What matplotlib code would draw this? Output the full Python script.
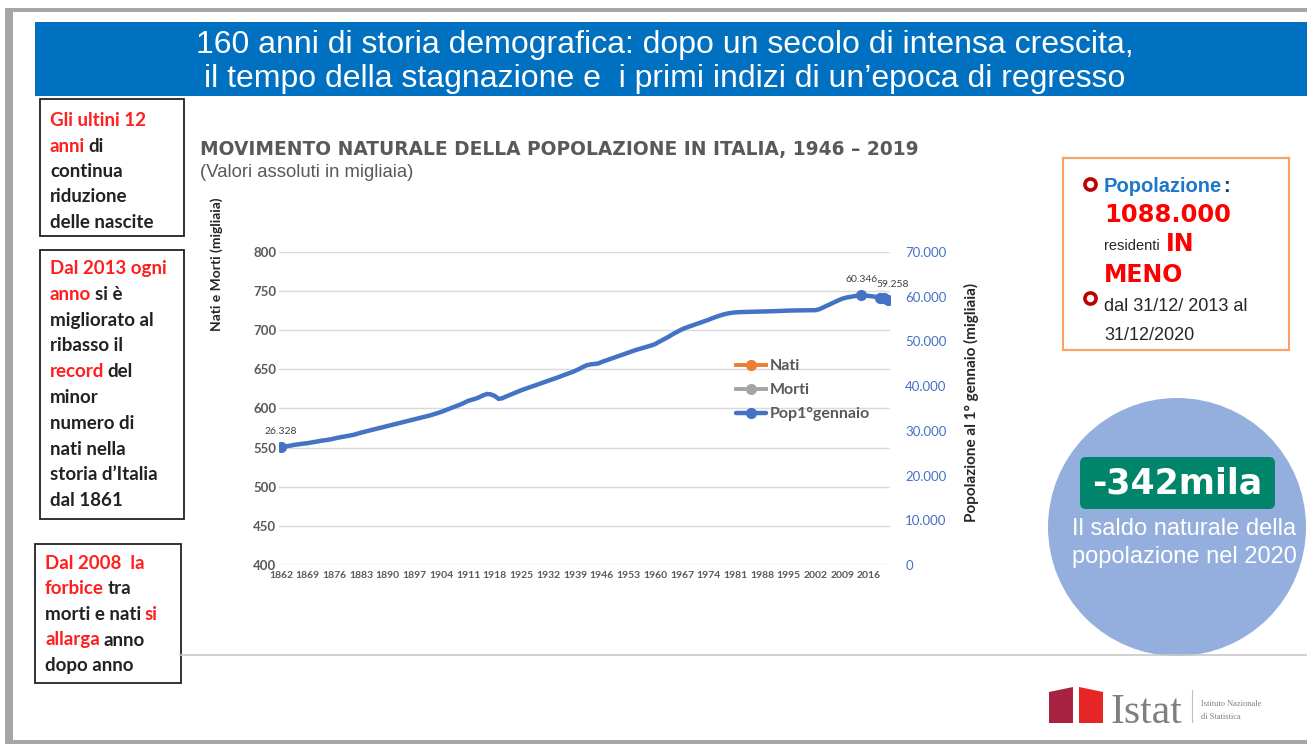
import matplotlib
matplotlib.use("Agg")
import matplotlib.pyplot as plt
from matplotlib.patches import Rectangle, Circle, FancyBboxPatch, Polygon
from matplotlib.ticker import FuncFormatter

# popolazione al 1 gennaio (migliaia)
years = list(range(1862, 2022))
pop = [
    26328, 26480, 26630, 26780, 26930, 27050, 27150, 27250,
    27400, 27550, 27700, 27850, 27950, 28100, 28300, 28480, 28640, 28800,
    28950, 29100, 29350, 29600, 29820, 30040, 30250, 30450, 30670, 30890,
    31100, 31320, 31530, 31740, 31950, 32170, 32380, 32600, 32800, 33010,
    33220, 33440, 33700, 33970, 34250, 34580, 34900, 35230, 35560, 35900,
    36280, 36700, 36950, 37200, 37550, 37950, 38250, 38150, 37800, 37150,
    37300, 37700, 38050, 38400, 38750, 39100, 39400, 39700, 40000, 40300,
    40600, 40900, 41200, 41500, 41800, 42100, 42450, 42750, 43050, 43400,
    43800, 44250, 44650, 44850, 44950, 45050, 45400, 45700, 46000, 46300,
    46600, 46900, 47200, 47500, 47800, 48100, 48350, 48600, 48850, 49100,
    49400, 49900, 50350, 50800, 51300, 51800, 52250, 52700, 53050, 53350,
    53650, 53950, 54250, 54550, 54850, 55200, 55500, 55800, 56050, 56250,
    56400, 56500, 56550, 56580, 56600, 56610, 56630, 56650, 56680, 56700,
    56730, 56760, 56800, 56840, 56880, 56900, 56920, 56930, 56950, 56960,
    56970, 56980, 56990, 57200, 57600, 58000, 58400, 58800, 59200, 59550,
    59800, 59950, 60100, 60250, 60346, 60295, 60163, 60066, 59938, 59817,
    59641, 59258,
]
# nati e morti: solo in legenda, nessun punto visibile nel grafico
nati_years, nati = [], []
morti_years, morti = [], []
marker_years = [1862, 2014, 2019, 2020, 2021]
label_years = [1862, 2014, 2021]
xtick_years = list(range(1862, 2017, 7))
left_ticks = list(range(400, 801, 50))
right_ticks = list(range(0, 70001, 10000))

title_lines = ["160 anni di storia demografica: dopo un secolo di intensa crescita,",
               "il tempo della stagnazione e  i primi indizi di un\u2019epoca di regresso"]

RED = "#FF1F1F"
DARK = "#222222"
box1 = [[("Gli ultini 12", RED)],
        [("anni", RED), (" di", DARK)],
        [("continua", DARK)],
        [("riduzione", DARK)],
        [("delle nascite", DARK)]]
box2 = [[("Dal 2013 ogni", RED)],
        [("anno", RED), (" si è", DARK)],
        [("migliorato al", DARK)],
        [("ribasso il", DARK)],
        [("record", RED), (" del", DARK)],
        [("minor", DARK)],
        [("numero di", DARK)],
        [("nati nella", DARK)],
        [("storia d\u2019Italia", DARK)],
        [("dal 1861", DARK)]]
box3 = [[("Dal 2008  la", RED)],
        [("forbice", RED), (" tra", DARK)],
        [("morti e nati ", DARK), ("si", RED)],
        [("allarga", RED), (" anno", DARK)],
        [("dopo anno", DARK)]]

W, H = 1307, 744
fig = plt.figure(figsize=(W / 100, H / 100), dpi=100)
bg = fig.add_axes([0, 0, 1, 1])
bg.set_xlim(0, W)
bg.set_ylim(H, 0)
bg.axis("off")
rend = fig.canvas.get_renderer()

# cornice e banner
gray = "#A6A6A6"
bg.add_patch(Rectangle((5, 8), 8, H - 8, color=gray, lw=0))
bg.add_patch(Rectangle((5, 8), W, 4, color=gray, lw=0))
bg.add_patch(Rectangle((5, 740), W, 4, color=gray, lw=0))
bg.add_patch(Rectangle((35, 22), W - 35, 74, color="#0070C0", lw=0))
bg.text(665, 45, title_lines[0], color="white", fontsize=23, family="Liberation Sans",
        ha="center", va="center")
bg.text(665, 79, title_lines[1], color="white", fontsize=23, family="Liberation Sans",
        ha="center", va="center")
bg.plot([180, W], [655, 655], color="#C8C8C8", lw=1.2)


def tw(s, **kw):
    t = bg.text(0, 0, s, **kw)
    w = t.get_window_extent(rend).width
    t.remove()
    return w


def rich(x, y, parts, **kw):
    done = ""
    bar = tw("|", **kw)
    for txt, col in parts:
        lead = len(txt) - len(txt.lstrip(" "))
        off = tw(done + " " * lead + "|", **kw) - bar - 1 if (done or lead) else 0
        bg.text(x + off, y, txt.lstrip(" "), color=col, ha="left", va="baseline", **kw)
        done += txt


box_font = dict(fontsize=13.5, family="Lato", fontweight="bold")
for rect, lines, x0, y0, step in [((40, 99, 144, 137), box1, 50, 126, 25.5),
                                  ((40, 250, 144, 269), box2, 50, 274, 25.8),
                                  ((35, 544, 146, 139), box3, 45, 569, 25.5)]:
    bg.add_patch(Rectangle(rect[:2], rect[2], rect[3], fill=False, ec="#222222", lw=1.3))
    for k, parts in enumerate(lines):
        rich(x0, y0 + k * step, parts, **box_font)

# titolo del grafico
bg.text(200, 155, "MOVIMENTO NATURALE DELLA POPOLAZIONE IN ITALIA, 1946 \u2013 2019",
        fontsize=13.4, fontweight="bold", color="#595959", family="DejaVu Sans", va="baseline")
bg.text(200, 177, "(Valori assoluti in migliaia)", fontsize=13.3, color="#595959",
        family="Liberation Sans", va="baseline")
bg.text(217, 264, "Nati e Morti (migliaia)", rotation=90, fontsize=10, fontweight="bold",
        color="#262626", family="Lato", ha="center", va="center")
bg.text(971, 402, "Popolazione al 1° gennaio (migliaia)", rotation=90, fontsize=11,
        fontweight="bold", color="#262626", family="Lato", ha="center", va="center")

# grafico
L, R, T, B = 279, 890, 252, 565
ax = fig.add_axes([L / W, (H - B) / H, (R - L) / W, (B - T) / H])
ax.set_xlim(1861.5, 2021.5)
ax.set_ylim(400, 800)
ax.set_yticks(left_ticks)
ax.set_xticks(xtick_years)
ax.grid(axis="y", color="#D9D9D9", lw=1)
ax.set_axisbelow(True)
for s in ax.spines.values():
    s.set_visible(False)
ax.tick_params(axis="y", length=0, pad=2, labelsize=9.5, labelcolor="#595959")
ax.tick_params(axis="x", length=0, pad=4, labelsize=7.5, labelcolor="#595959")
for lab in ax.get_yticklabels() + ax.get_xticklabels():
    lab.set_family("Lato")
    lab.set_fontweight("bold")
l1, = ax.plot(nati_years, nati, color="#ED7D31", lw=2.8, marker="o", ms=7, label="Nati")
l2, = ax.plot(morti_years, morti, color="#A5A5A5", lw=2.8, marker="o", ms=7, label="Morti")

ax2 = ax.twinx()
ax2.set_ylim(0, 70000)
ax2.set_yticks(right_ticks)
ax2.yaxis.set_major_formatter(FuncFormatter(lambda v, p: f"{int(v):,}".replace(",", ".")))
for s in ax2.spines.values():
    s.set_visible(False)
ax2.tick_params(axis="y", length=0, pad=11, labelsize=9.5, labelcolor="#4472C4")
for lab in ax2.get_yticklabels():
    lab.set_family("Lato")
mk = [years.index(y) for y in marker_years]
l3, = ax2.plot(years, pop, color="#4472C4", lw=3.2, marker="o", ms=7, markevery=mk,
               label="Pop1°gennaio", solid_capstyle="round")
for y in label_years:
    v = pop[years.index(y)]
    dx = 3 if y == label_years[-1] else 0
    ax2.annotate(f"{v:,}".replace(",", "."), (y, v), xytext=(dx, 8), textcoords="offset points",
                 ha="center", va="bottom", fontsize=7.5, color="#404040", family="Lato")

leg = ax2.legend(handles=[l1, l2, l3], loc="upper left", bbox_to_anchor=(728, 351),
                 bbox_transform=bg.transData, frameon=False, handlelength=1.9,
                 handletextpad=0.2, labelspacing=0.62, borderpad=0,
                 prop=dict(family="Lato", size=11.5, weight="bold"))
for t in leg.get_texts():
    t.set_color("#595959")

# riquadro popolazione
bg.add_patch(Rectangle((1063, 158), 226, 192, fill=False, ec="#F4A46A", lw=1.6))
ring = dict(marker="o", ms=8, mfc="white", mec="#C00000", mew=2.6, ls="none")
bg.plot([1090], [184], **ring)
bg.plot([1090], [298], **ring)
bg.text(1104, 192, "Popolazione", color="#1E78C8", fontsize=14.5, fontweight="bold",
        family="Liberation Sans", va="baseline")
x = 1104 + tw("Popolazione", fontsize=14.5, fontweight="bold", family="Liberation Sans")
bg.text(x + 1, 192, ":", color="#1F3864", fontsize=14.5, fontweight="bold",
        family="Liberation Sans", va="baseline")
bg.text(1104, 222, "1088.000", color="#FF0000", fontsize=17.5, fontweight="bold",
        family="DejaVu Sans", va="baseline")
bg.text(1104, 250, "residenti", color="#262626", fontsize=10.5,
        family="Liberation Sans", va="baseline")
x = 1104 + tw("residenti", fontsize=10.5, family="Liberation Sans")
bg.text(x + 6, 251, "IN", color="#FF0000", fontsize=17, fontweight="bold",
        family="DejaVu Sans", va="baseline")
bg.text(1104, 282, "MENO", color="#FF0000", fontsize=17, fontweight="bold",
        family="DejaVu Sans", va="baseline")
bg.text(1104, 311, "dal 31/12/ 2013 al", color="#262626", fontsize=13,
        family="Liberation Sans", va="baseline")
bg.text(1104, 340, "31/12/2020", color="#262626", fontsize=13,
        family="Liberation Sans", va="baseline")

# cerchio saldo naturale
bg.add_patch(Circle((1177, 527), 129, color="#94AFDE", lw=0))
bg.add_patch(FancyBboxPatch((1083, 460), 189, 46, boxstyle="round,pad=3,rounding_size=6",
                            color="#00846A", lw=0))
bg.text(1177, 484, "-342mila", color="white", fontsize=25, fontweight="bold",
        family="DejaVu Sans", ha="center", va="center")
bg.text(1184, 529, "Il saldo naturale della", color="white", fontsize=17,
        family="Liberation Sans", ha="center", va="center")
bg.text(1184, 557, "popolazione nel 2020", color="white", fontsize=17,
        family="Liberation Sans", ha="center", va="center")

# logo Istat
bg.add_patch(Polygon([(1049, 723), (1049, 692), (1073, 687), (1073, 723)], color="#A8233F", lw=0))
bg.add_patch(Polygon([(1079, 723), (1079, 687), (1103, 692), (1103, 723)], color="#E52526", lw=0))
bg.text(1110, 723, "Istat", color="#7F7F7F", fontsize=30, family="Liberation Serif",
        va="baseline")
bg.plot([1192, 1192], [690, 722], color="#BFBFBF", lw=0.8)
bg.text(1201, 704, "Istituto Nazionale", color="#7F7F7F", fontsize=6,
        family="Liberation Serif", va="center")
bg.text(1201, 717, "di Statistica", color="#7F7F7F", fontsize=6,
        family="Liberation Serif", va="center")

fig.savefig("out.png", dpi=100)
